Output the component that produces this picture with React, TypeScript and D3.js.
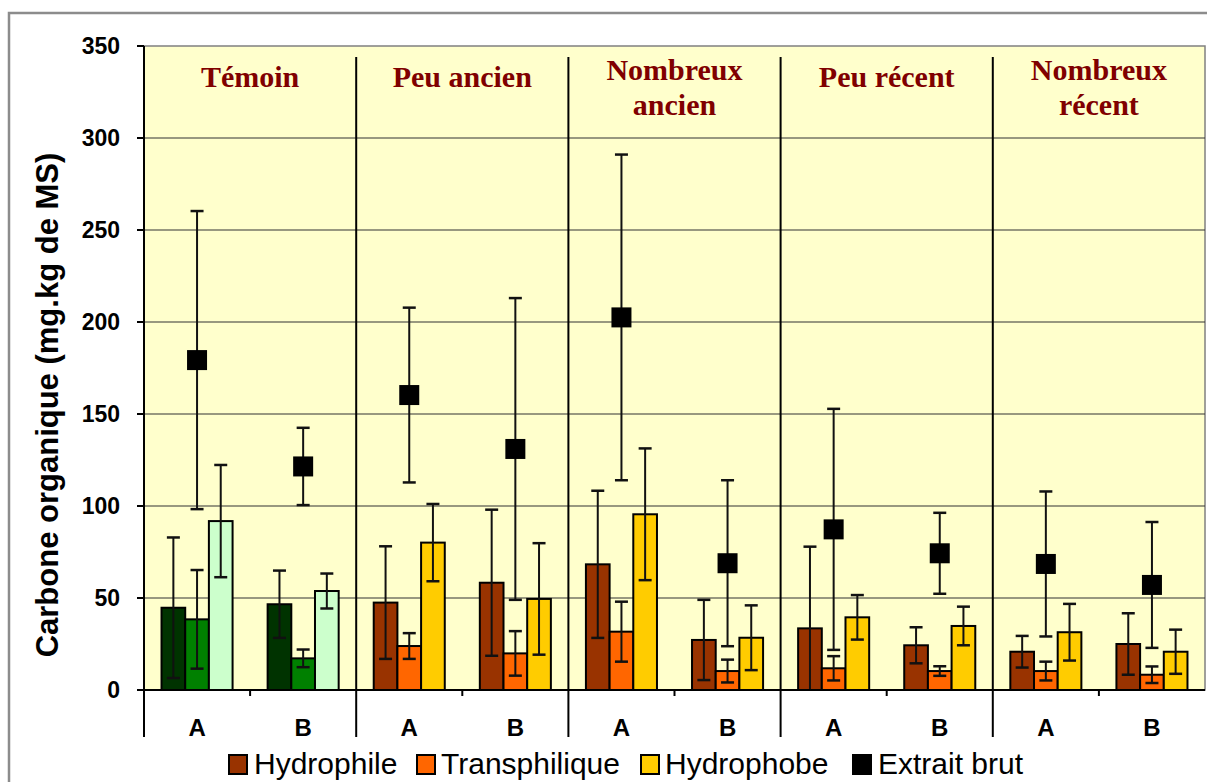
import React from "react";
import * as d3 from "d3";

const panels = ["Témoin", "Peu ancien", "Nombreux\nancien", "Peu récent", "Nombreux\nrécent"];
const subCats = ["A", "B"];
const seriesNames = ["Hydrophile", "Transphilique", "Hydrophobe", "Extrait brut"];

// values per category (panel x subCat): Témoin A, Témoin B, Peu ancien A, ...
const hydrophile = [44.7, 46.6, 47.5, 58.3, 68.3, 27.2, 33.5, 24.3, 20.8, 25.0];
const hydrophileErr = [38.2, 18.3, 30.6, 39.7, 40.0, 21.8, 44.4, 9.8, 8.6, 16.7];
const transphilique = [38.4, 17.2, 23.9, 19.9, 31.7, 10.3, 11.8, 10.3, 10.3, 8.3];
const transphiliqueErr = [26.8, 4.8, 7.0, 12.1, 16.3, 6.2, 6.6, 2.6, 5.1, 4.5];
const hydrophobe = [91.8, 53.8, 80.1, 49.5, 95.5, 28.4, 39.5, 34.8, 31.4, 20.8];
const hydrophobeErr = [30.5, 9.5, 21.0, 30.3, 35.8, 17.6, 12.1, 10.5, 15.4, 12.0];
const extrait = [179.3, 121.5, 160.3, 131.0, 202.5, 68.9, 87.3, 74.3, 68.5, 57.1];
const extraitErr = [81.0, 21.0, 47.5, 82.0, 88.5, 45.1, 65.5, 22.0, 39.4, 34.2];

const yTicks = [0, 50, 100, 150, 200, 250, 300, 350];

const temoinColors = ["#003300", "#008000", "#CCFFCC"];
const otherColors = ["#993300", "#FF6600", "#FFCC00"];

export default function App() {
  const W = 1207, H = 782;
  const left = 144, right = 1205, top = 46, bottom = 690;
  const y = d3.scaleLinear().domain([0, 350]).range([bottom, top]);
  const cats = d3.range(panels.length * subCats.length);
  const x = d3.scaleBand<number>().domain(cats).range([left, right]).paddingInner(0).paddingOuter(0);
  const inner = d3.scaleBand<number>().domain([0, 1, 2]).range([0, x.bandwidth()]).paddingInner(0).paddingOuter(0.74);
  const panelX = d3.scaleBand<number>().domain(d3.range(panels.length)).range([left, right]);

  const barSeries = [
    { v: hydrophile, e: hydrophileErr },
    { v: transphilique, e: transphiliqueErr },
    { v: hydrophobe, e: hydrophobeErr },
  ];
  const sans = "'Liberation Sans', Arial, sans-serif";
  const serif = "'Liberation Serif', 'Times New Roman', serif";
  const capW = 13;
  const sq = 20;

  const errBar = (cx: number, v: number, e: number, key: string) => {
    const hi = y(Math.min(350, v + e));
    const loV = v - e;
    const lo = y(Math.max(0, loV));
    return (
      <g key={key} stroke="#111" strokeWidth={2}>
        <line x1={cx} x2={cx} y1={hi} y2={lo} />
        <line x1={cx - capW / 2} x2={cx + capW / 2} y1={hi} y2={hi} strokeWidth={2.5} />
        {loV >= 0 && <line x1={cx - capW / 2} x2={cx + capW / 2} y1={lo} y2={lo} strokeWidth={2.5} />}
      </g>
    );
  };

  const legendItems = [
    { name: seriesNames[0], color: otherColors[0], sx: 229, tx: 254 },
    { name: seriesNames[1], color: otherColors[1], sx: 417, tx: 441 },
    { name: seriesNames[2], color: otherColors[2], sx: 641, tx: 665 },
    { name: seriesNames[3], color: "#000000", sx: 853, tx: 878 },
  ];

  return (
    <svg width={W} height={H} style={{ position: "absolute", left: 0, top: 0, background: "#fff" }}>
      <rect x={9} y={13} width={1210} height={800} fill="#fff" stroke="#8c8c8c" strokeWidth={2.5} />
      <rect x={left} y={top} width={right - left} height={bottom - top} fill="#FFFFCC" stroke="#808080" strokeWidth={1.5} />
      {yTicks.filter((t) => t > 0 && t < 350).map((t) => (
        <line key={t} x1={left} x2={right} y1={y(t)} y2={y(t)} stroke="#333" strokeWidth={1.2} />
      ))}
      {/* bars */}
      {cats.map((c) => {
        const pi = Math.floor(c / 2);
        const colors = pi === 0 ? temoinColors : otherColors;
        return (
          <g key={c}>
            {barSeries.map((s, si) => (
              <rect
                key={si}
                x={(x(c) as number) + (inner(si) as number)}
                y={y(s.v[c])}
                width={inner.bandwidth()}
                height={bottom - y(s.v[c])}
                fill={colors[si]}
                stroke="#000"
                strokeWidth={2}
              />
            ))}
          </g>
        );
      })}
      {cats.map((c) =>
        barSeries.map((s, si) =>
          errBar((x(c) as number) + (inner(si) as number) + inner.bandwidth() / 2, s.v[c], s.e[c], `e${c}-${si}`)
        )
      )}
      {cats.map((c) => {
        const cx = (x(c) as number) + x.bandwidth() / 2;
        return (
          <g key={`x${c}`}>
            {errBar(cx, extrait[c], extraitErr[c], `xe${c}`)}
            <rect x={cx - sq / 2} y={y(extrait[c]) - sq / 2} width={sq} height={sq} fill="#000" />
          </g>
        );
      })}
      {/* axes */}
      <line x1={left} x2={left} y1={top} y2={bottom} stroke="#000" strokeWidth={2} />
      <line x1={left} x2={right} y1={bottom} y2={bottom} stroke="#000" strokeWidth={2} />
      {yTicks.map((t) => (
        <g key={t}>
          <line x1={left - 7} x2={left} y1={y(t)} y2={y(t)} stroke="#000" strokeWidth={2} />
          <text x={120} y={y(t)} dy="0.36em" textAnchor="end" fontFamily={sans} fontWeight="bold" fontSize={23} fill="#000">
            {t}
          </text>
        </g>
      ))}
      {cats.map((c) => (
        <g key={`t${c}`}>
          {c % 2 === 1 && (
            <line x1={x(c) as number} x2={x(c) as number} y1={bottom} y2={bottom + 6} stroke="#000" strokeWidth={2} />
          )}
          <text x={(x(c) as number) + x.bandwidth() / 2} y={736} textAnchor="middle" fontFamily={sans} fontWeight="bold" fontSize={24} fill="#000">
            {subCats[c % 2]}
          </text>
        </g>
      ))}
      {d3.range(1, panels.length).map((p) => (
        <line key={`s${p}`} x1={panelX(p) as number} x2={panelX(p) as number} y1={57} y2={737} stroke="#000" strokeWidth={2} />
      ))}
      <line x1={left} x2={left} y1={bottom} y2={737} stroke="#000" strokeWidth={2} />
      {/* panel titles */}
      {panels.map((p, i) => {
        const lines = p.split("\n");
        const cx = (panelX(i) as number) + panelX.bandwidth() / 2;
        return (
          <text key={p} x={cx} textAnchor="middle" fontFamily={serif} fontWeight="bold" fontSize={30} fill="#800000">
            {lines.map((l, li) => (
              <tspan key={li} x={cx} y={lines.length === 1 ? 87 : 80 + li * 35}>
                {l}
              </tspan>
            ))}
          </text>
        );
      })}
      {/* y label */}
      <text transform={`translate(58, 405) rotate(-90)`} textAnchor="middle" fontFamily={sans} fontWeight="bold" fontSize={31} fill="#000">
        Carbone organique (mg.kg de MS)
      </text>
      {/* legend */}
      {legendItems.map((it) => (
        <g key={it.name}>
          <rect x={it.sx} y={755} width={18} height={19} fill={it.color} stroke="#000" strokeWidth={2} />
          <text x={it.tx} y={774} fontFamily={sans} fontSize={30} fill="#000">
            {it.name}
          </text>
        </g>
      ))}
    </svg>
  );
}
